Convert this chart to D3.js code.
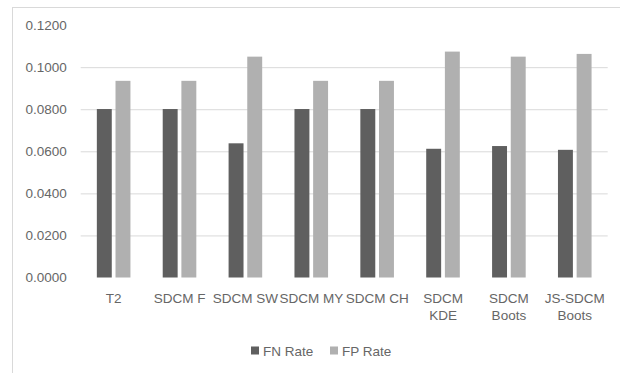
<!DOCTYPE html>
<html>
<head>
<meta charset="utf-8">
<script src="https://cdn.jsdelivr.net/npm/d3@7"></script>
<style>
  html, body { margin: 0; padding: 0; background: #fff; }
  svg { display: block; }
  text { font-family: "Liberation Sans", Arial, sans-serif; fill: #595959; }
</style>
</head>
<body>
<svg id="chart" width="620" height="373"></svg>
<script>
// Error rates per method
const categories = [
  ["T2"], ["SDCM F"], ["SDCM SW"], ["SDCM MY"], ["SDCM CH"],
  ["SDCM", "KDE"], ["SDCM", "Boots"], ["JS-SDCM", "Boots"]
];
const seriesNames = ["FN Rate", "FP Rate"];
const fnRate = [0.0801, 0.0801, 0.0638, 0.0801, 0.0801, 0.0612, 0.0625, 0.0607];
const fpRate = [0.0935, 0.0935, 0.1050, 0.0935, 0.0935, 0.1074, 0.1050, 0.1063];
const yTicks = [0, 0.02, 0.04, 0.06, 0.08, 0.10, 0.12];
const colors = ["#5f5f5f", "#b0b0b0"];
const textColor = "#666666";

const svg = d3.select("#chart");

// outer chart frame
svg.append("rect")
  .attr("x", 12.5).attr("y", 7.5)
  .attr("width", 640).attr("height", 400)
  .attr("fill", "none").attr("stroke", "#d9d9d9");

const plot = { left: 80.7, right: 607.7, top: 25.1, bottom: 277.5 };

const y = d3.scaleLinear().domain([0, 0.12]).range([plot.bottom, plot.top]);
const x0 = d3.scaleBand().domain(d3.range(categories.length))
  .range([plot.left, plot.right]).paddingInner(0.49).paddingOuter(0.245);
const x1 = d3.scaleBand().domain([0, 1]).range([0, x0.bandwidth()]).paddingInner(0.2);

// gridlines + y labels
const yAxis = d3.axisLeft(y).tickValues(yTicks)
  .tickFormat(d3.format(".4f")).tickSize(-(plot.right - plot.left)).tickPadding(14);
const gy = svg.append("g").attr("transform", `translate(${plot.left},0)`).call(yAxis);
gy.select(".domain").remove();
gy.selectAll(".tick line").attr("stroke", "#d9d9d9").attr("stroke-width", 1);
gy.selectAll(".tick text").style("font-size", "13.5px").style("fill", textColor);
gy.selectAll(".tick").filter(d => d === 0.12 || d === 0).select("line").remove();

// bars
const groups = svg.append("g").selectAll("g")
  .data(categories.map((c, i) => ({ i, vals: [fnRate[i], fpRate[i]] })))
  .join("g")
  .attr("transform", d => `translate(${x0(d.i)},0)`);

groups.selectAll("rect")
  .data(d => d.vals.map((v, k) => ({ v, k })))
  .join("rect")
  .attr("x", d => x1(d.k))
  .attr("width", x1.bandwidth())
  .attr("y", d => y(d.v))
  .attr("height", d => y(0) - y(d.v))
  .attr("fill", d => colors[d.k]);

// category labels
const xAxis = d3.axisBottom(x0).tickSize(0).tickFormat(() => "");
const gx = svg.append("g").attr("transform", `translate(0,${plot.bottom})`).call(xAxis);
gx.select(".domain").remove();
gx.selectAll(".tick").each(function(d) {
  const t = d3.select(this).append("text")
    .attr("text-anchor", "middle")
    .style("font-size", "13.5px")
    .style("fill", textColor);
  categories[d].forEach((line, j) => {
    t.append("tspan").attr("x", 0).attr("y", 25.5 + j * 16.5).text(line);
  });
});

// legend
const legend = svg.append("g");
const items = [{ x: 251, name: seriesNames[0], c: colors[0] }, { x: 330, name: seriesNames[1], c: colors[1] }];
items.forEach(it => {
  legend.append("rect").attr("x", it.x).attr("y", 346.5).attr("width", 8).attr("height", 8).attr("fill", it.c);
  legend.append("text").attr("x", it.x + 12).attr("y", 355.5)
    .style("font-size", "13.5px").style("fill", textColor).text(it.name);
});
</script>
</body>
</html>
